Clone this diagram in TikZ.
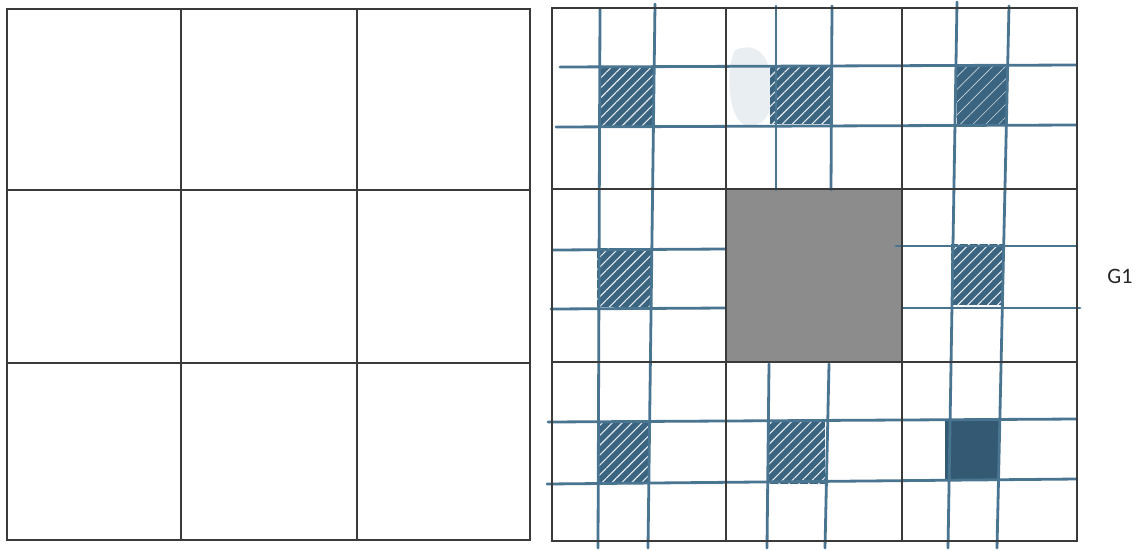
\documentclass[tikz,border=0pt]{standalone}
\usepackage{fontspec}
\newfontfamily\labelfont{Carlito}
\usetikzlibrary{patterns.meta}
\definecolor{ink}{HTML}{4A7591}
\definecolor{inkdark}{HTML}{3A6480}
\definecolor{gridc}{HTML}{3A3A3A}
\definecolor{centergray}{HTML}{8C8C8C}
\tikzset{
  gridline/.style={draw=gridc, line width=1.3pt},
  bluel/.style={draw=ink, line width=2.8pt, line cap=round},
  hatchbox/.style={fill=inkdark},
  hatchlines/.style={pattern={Lines[angle=45,distance=7pt,line width=1.1pt]}, pattern color=white!85!ink},
}
\begin{document}
\begin{tikzpicture}[x=1pt,y=-1pt]
\useasboundingbox (0,0) rectangle (1146,550);
\fill[white] (0,0) rectangle (1146,550);
% left plain grid
\draw[gridline] (7,9) rectangle (530,540);
\draw[gridline] (181,9) -- (181,540);
\draw[gridline] (357,9) -- (357,540);
\draw[gridline] (7,190) -- (530,190);
\draw[gridline] (7,363) -- (530,363);
% right grid: gray centre
\fill[centergray] (726,189) rectangle (902,362);
% faint smudge
\fill[ink, opacity=0.12] (735,50) .. controls (760,40) and (772,60) .. (772,90)
  .. controls (772,120) and (760,128) .. (745,125) .. controls (728,118) and (725,70) .. (735,50) -- cycle;
% hatched squares
\foreach \a/\b/\c/\d in {600/67/654/126, 770/66/832/124, 597/248/652/307, 951/244/1003/305, 598/421/648/484, 767/421/825/484}{
  \fill[hatchbox] (\a,\b) rectangle (\c,\d);
  \fill[hatchlines] (\a,\b) rectangle (\c,\d);
}
\fill[hatchbox] (957,66) rectangle (1008,125);
\fill[pattern={Lines[angle=45,distance=9pt,line width=0.6pt]}, pattern color=white!70!ink] (957,66) rectangle (1008,125);
\fill[inkdark!90!black] (945,420) rectangle (999,479);
% blue vertical lines
\draw[bluel] (600,8) -- (598,548);
\draw[bluel] (655,4) -- (648,548);
\draw[bluel] (776,6) -- (776,190);
\draw[bluel] (832,6) -- (831,190);
\draw[bluel] (769,364) -- (767,548);
\draw[bluel] (829,364) -- (825,548);
\draw[bluel] (957,2) -- (948,548);
\draw[bluel] (1009,6) -- (997,548);
% blue horizontal lines
\draw[bluel] (560,67) -- (1076,65);
\draw[bluel] (556,127) -- (1076,125);
\draw[bluel] (553,250) -- (726,249);
\draw[bluel] (551,309) -- (726,308);
\draw[bluel] (896,246) -- (1077,246);
\draw[bluel] (902,308) -- (1080,308);
\draw[bluel] (548,422) -- (1077,419);
\draw[bluel] (547,484) -- (1077,479);
% right grid black lines
\draw[gridline] (552,8) rectangle (1077,541);
\draw[gridline] (726,8) -- (726,541);
\draw[gridline] (902,8) -- (902,541);
\draw[gridline] (552,189) -- (1077,189);
\draw[gridline] (552,362) -- (1077,362);
\node[font=\labelfont\fontsize{22}{26}\selectfont, text=black!85] (g1) at (1120,276) {G1};
\end{tikzpicture}
\end{document}
